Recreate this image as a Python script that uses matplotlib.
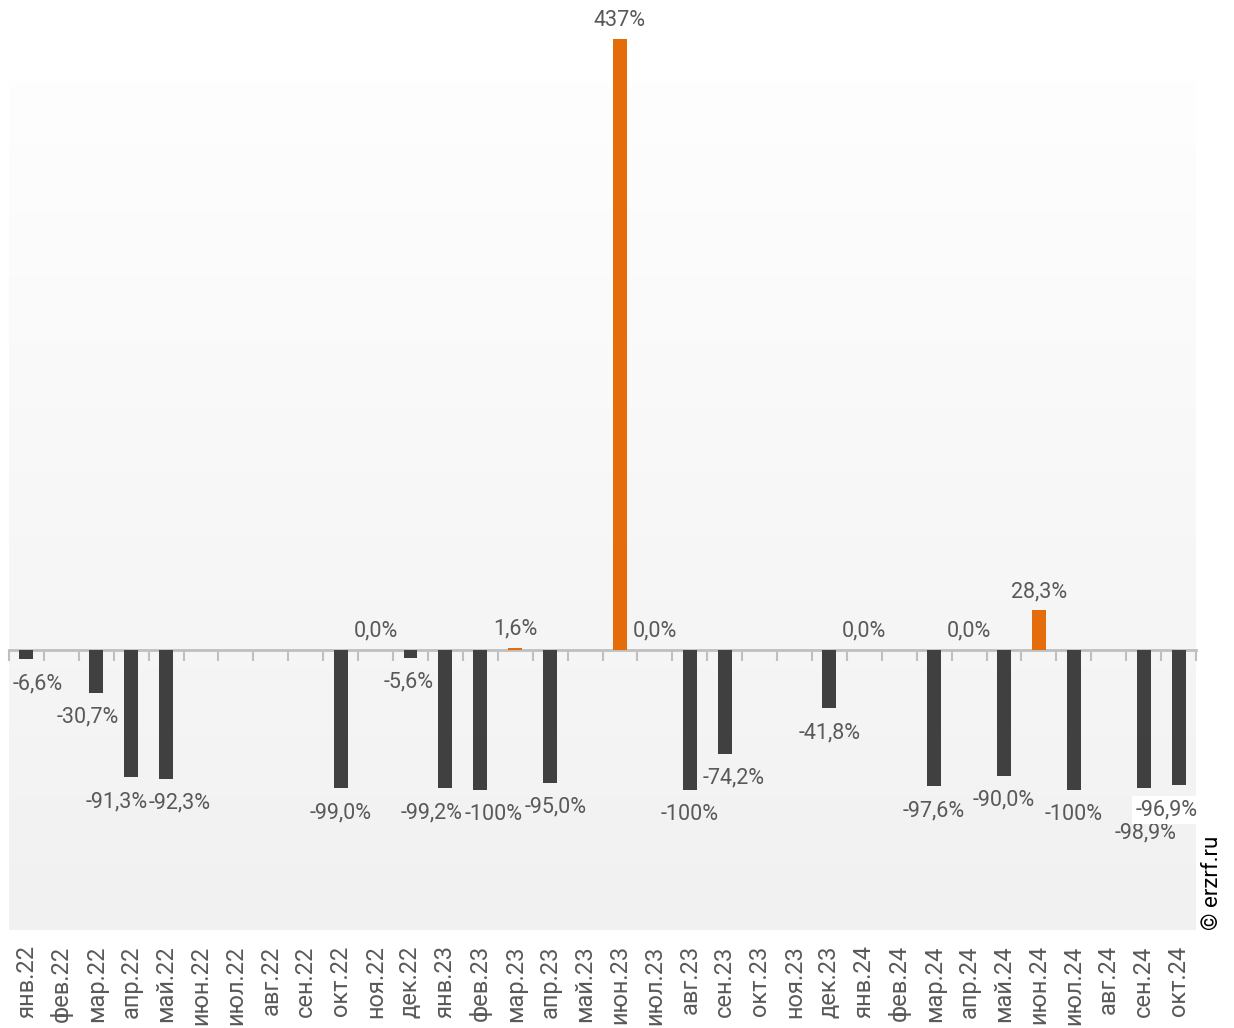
import numpy as np
import matplotlib
matplotlib.use("Agg")
import matplotlib.pyplot as plt
from matplotlib.colors import LinearSegmentedColormap

plt.rcParams['font.family'] = ['Roboto', 'DejaVu Sans']

months = ["янв.22", "фев.22", "мар.22", "апр.22", "май.22", "июн.22", "июл.22", "авг.22",
          "сен.22", "окт.22", "ноя.22", "дек.22", "янв.23", "фев.23", "мар.23", "апр.23",
          "май.23", "июн.23", "июл.23", "авг.23", "сен.23", "окт.23", "ноя.23", "дек.23",
          "янв.24", "фев.24", "мар.24", "апр.24", "май.24", "июн.24", "июл.24", "авг.24",
          "сен.24", "окт.24"]
nan = np.nan
values = [-6.6, nan, -30.7, -91.3, -92.3, nan, nan, nan,
          nan, -99.0, 0.0, -5.6, -99.2, -100.0, 1.6, -95.0,
          nan, 437.0, 0.0, -100.0, -74.2, nan, nan, -41.8,
          0.0, nan, -97.6, 0.0, -90.0, 28.3, -100.0, nan,
          -98.9, -96.9]

# label nudges (pixels) to mimic the original's overlap avoidance
label_nudge = {0: (11, 0), 2: (-9, 0), 3: (-15, 0), 4: (14, 0), 11: (-2, 0),
               12: (-14, 0), 13: (13, 0), 15: (5, 0), 20: (9, 0),
               32: (2, -20), 33: (-12, 0)}

NEG = "#404040"
POS = "#E46C0A"
TXT = "#595959"

fig = plt.figure(figsize=(12.34, 10.28), dpi=100)
ax = fig.add_axes([9/1234, 98/1028, 1187/1234, 850/1028])
ymin, ymax = -200.5, 408

# gradient background
grad = np.linspace(0, 1, 256).reshape(-1, 1)
cmap = LinearSegmentedColormap.from_list("bg", ["#f1f1f1", "#fefefe"])
ax.imshow(grad, cmap=cmap, aspect="auto", extent=[0, 1, 0, 1],
          transform=ax.transAxes, origin="lower", zorder=0)
ax.set_xlim(-0.5, len(months) - 0.5)
ax.set_ylim(ymin, ymax)
ax.set_facecolor("none")

x = np.arange(len(months))
vals = np.array(values, dtype=float)
colors = [POS if (not np.isnan(v) and v > 0) else NEG for v in vals]
bars = ax.bar(x, np.nan_to_num(vals), width=0.4, color=colors, zorder=3, clip_on=False)

def fmt(v):
    if abs(v) >= 100:
        return f"{v:.0f}%"
    return f"{v:.1f}%".replace(".", ",")

for i, v in enumerate(vals):
    if np.isnan(v):
        continue
    dx, dy = label_nudge.get(i, (0, 0))
    if v < 0:
        kw = dict(va="top", xytext=(dx, -14 + dy))
    else:
        kw = dict(va="bottom", xytext=(dx, 8 + dy))
    bb = None
    if i == 33:
        bb = dict(boxstyle="square,pad=0.15", fc="white", ec="none")
    ax.annotate(fmt(v), xy=(i, v), textcoords="offset pixels", ha="center",
                fontsize=15.5, color=TXT, zorder=5, annotation_clip=False, bbox=bb, **kw)

for s in ax.spines.values():
    s.set_visible(False)
ax.set_yticks([])
ax.set_xticks(x)
ax.set_xticklabels(months, rotation=90, fontsize=17, color=TXT)
ax.tick_params(axis="x", length=0, pad=11)

# zero axis with boundary tick marks
zero_frac = (0 - ymin) / (ymax - ymin)
sec = ax.secondary_xaxis(zero_frac)
sec.spines["bottom"].set_color("#bfbfbf")
sec.spines["bottom"].set_linewidth(2)
sec.set_xticks(np.arange(-0.5, len(months), 1.0))
sec.set_xticklabels([])
sec.tick_params(axis="x", length=8, width=1.5, color="#bfbfbf", direction="out")
sec.set_zorder(2)

fig.text(1213/1234, 98/1028, "© erzrf.ru", rotation=90, ha="center", va="bottom",
         fontsize=16, color="black")

fig.savefig("out.png", dpi=100, facecolor="white")
